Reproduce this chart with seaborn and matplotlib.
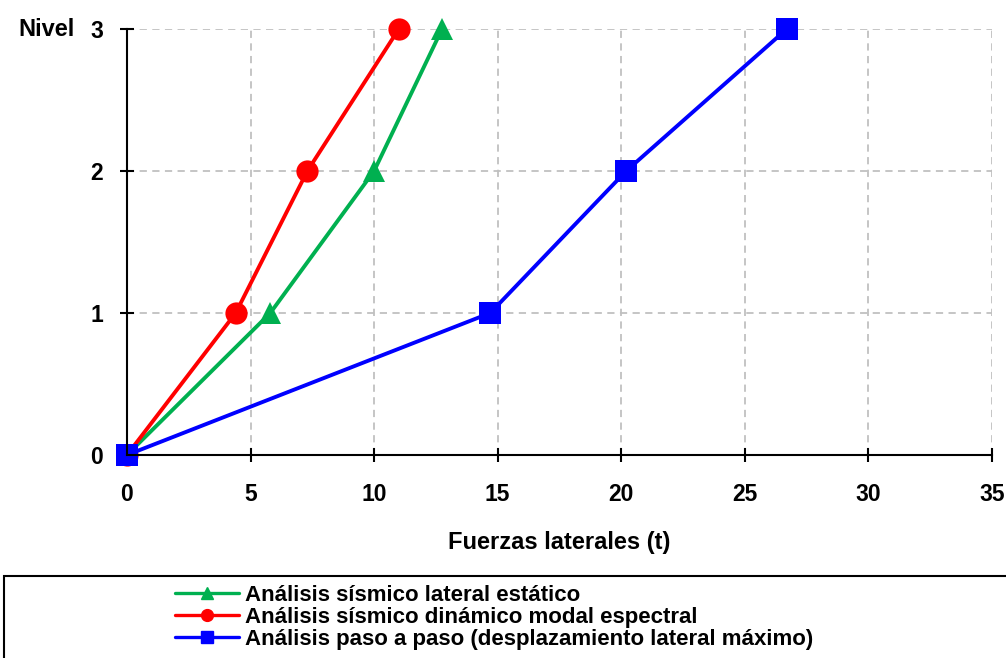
import pandas as pd
import matplotlib.pyplot as plt
import seaborn as sns
from matplotlib.lines import Line2D
from matplotlib.patches import Rectangle

# datos
niveles = [0, 1, 2, 3]
estatico = [0.0, 5.8, 10.0, 12.75]
dinamico = [0.0, 4.4, 7.3, 11.0]
paso_a_paso = [0.0, 14.7, 20.2, 26.7]

series = ["Análisis sísmico lateral estático",
          "Análisis sísmico dinámico modal espectral",
          "Análisis paso a paso (desplazamiento lateral máximo)"]
colores = ["#00B050", "#FF0000", "#0000FF"]
marcadores = ["^", "o", "s"]
x_ticks = [0, 5, 10, 15, 20, 25, 30, 35]
y_ticks = [0, 1, 2, 3]

df = pd.DataFrame({
    "fuerza": estatico + dinamico + paso_a_paso,
    "nivel": niveles * 3,
    "serie": [s for s in series for _ in niveles],
})

sns.set_style("white")
plt.rcParams["font.family"] = ["Liberation Sans", "DejaVu Sans"]
plt.rcParams["font.weight"] = "bold"
plt.rcParams["text.color"] = "black"

fig = plt.figure(figsize=(10.06, 6.58), dpi=100)
ax = fig.add_axes([0.1262, 0.3085, 0.8598, 0.6474])

sns.lineplot(data=df, x="fuerza", y="nivel", hue="serie", style="serie",
             palette=dict(zip(series, colores)), markers=dict(zip(series, marcadores)),
             dashes=False, sort=False, estimator=None, linewidth=2.8,
             markersize=16, markeredgewidth=0, clip_on=False, legend=False, ax=ax)

ax.set_xlim(0, 35)
ax.set_ylim(0, 3)
ax.set_xticks(x_ticks)
ax.set_yticks(y_ticks)
ax.grid(True, color="#C0C0C0", linestyle=(0, (4, 3)), linewidth=1.3)
for s in ["top", "right"]:
    ax.spines[s].set_visible(False)
for s in ["left", "bottom"]:
    ax.spines[s].set_color("black")
    ax.spines[s].set_linewidth(1.5)
ax.tick_params(bottom=True, left=True, direction="inout", length=10, width=1.5,
               labelsize=16.5, colors="black", labelcolor="black")
ax.tick_params(axis="x", pad=15)
ax.tick_params(axis="y", pad=12)
for lab in ax.get_xticklabels() + ax.get_yticklabels():
    lab.set_fontweight("bold")

ax.set_xlabel("Fuerzas laterales (t)", fontsize=17, fontweight="bold",
              color="black", labelpad=18)
ax.set_ylabel("")
ax.text(-0.06, 1.0, "Nivel", transform=ax.transAxes, fontsize=17,
        fontweight="bold", color="black", ha="right", va="center")

# leyenda en recuadro inferior
fig.patches.append(Rectangle((0.004, -0.01), 1.2, 0.135, transform=fig.transFigure,
                             fill=False, edgecolor="black", linewidth=1.5))
handles = [Line2D([], [], color=c, marker=m, markersize=8.5, linewidth=2.4)
           for c, m in zip(colores, marcadores)]
fig.legend(handles, series, loc="upper left", bbox_to_anchor=(0.174, 0.111),
           frameon=False, prop={"size": 16, "weight": "bold"},
           handlelength=2.9, handletextpad=0.25, labelspacing=0.05,
           borderaxespad=0, borderpad=0)

fig.savefig("out.png", dpi=100)
